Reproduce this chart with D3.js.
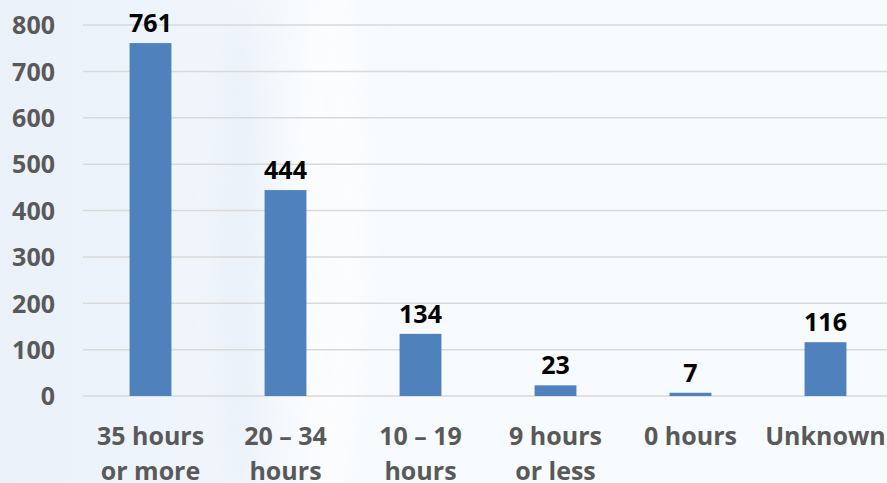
<!DOCTYPE html>
<html><head><meta charset="utf-8">
<script src="https://cdn.jsdelivr.net/npm/d3@7"></script>
<style>html,body{margin:0;padding:0;overflow:hidden;background:#f6fafd}</style>
</head><body>
<svg id="c" width="887" height="483"></svg>
<script>
const categories = [["35 hours","or more"],["20 – 34","hours"],["10 – 19","hours"],["9 hours","or less"],["0 hours"],["Unknown"]];
const values = [761,444,134,23,7,116];
const yTicks = [0,100,200,300,400,500,600,700,800];

const W=887,H=483;
const svg=d3.select("#c");
const defs=svg.append("defs");
const lg=defs.append("linearGradient").attr("id","bg").attr("x1",0).attr("x2",1).attr("y1",0).attr("y2",0);
[[0,"#eaf1f9"],[0.18,"#eef4fb"],[0.3,"#f4f8fd"],[0.5,"#f7fbfd"],[1,"#f8fbfd"]].forEach(s=>lg.append("stop").attr("offset",s[0]).attr("stop-color",s[1]));
svg.append("rect").attr("width",W).attr("height",H).attr("fill","url(#bg)");
const blur=defs.append("filter").attr("id","bl").attr("x","-50%").attr("y","-50%").attr("width","200%").attr("height","200%");
blur.append("feGaussianBlur").attr("stdDeviation",14);
svg.append("ellipse").attr("cx",330).attr("cy",230).attr("rx",40).attr("ry",300).attr("fill","#ffffff").attr("opacity",0.6).attr("filter","url(#bl)");
svg.append("ellipse").attr("cx",240).attr("cy",260).attr("rx",25).attr("ry",260).attr("fill","#e3ecf6").attr("opacity",0.5).attr("filter","url(#bl)");

const x=d3.scaleBand().domain(d3.range(values.length)).range([83,893]).paddingInner(0.69).paddingOuter(0.345);
const y=d3.scaleLinear().domain([0,800]).range([396,25]);

const font="'Open Sans', 'DejaVu Sans', sans-serif";
svg.append("g").selectAll("line").data(yTicks).join("line")
  .attr("x1",83).attr("x2",W).attr("y1",d=>y(d)).attr("y2",d=>y(d))
  .attr("stroke","#d9d9d9").attr("stroke-width",1.5);

const ya=svg.append("g").attr("transform","translate(55,0)")
  .call(d3.axisLeft(y).tickValues(yTicks).tickSize(0).tickPadding(0));
ya.select(".domain").remove();
ya.selectAll("text").attr("font-family",font).attr("font-weight",700).attr("font-size",25).attr("fill","#595959").attr("dy","0.35em");

svg.append("g").selectAll("rect").data(values).join("rect")
  .attr("x",(d,i)=>x(i)).attr("width",x.bandwidth())
  .attr("y",d=>y(d)).attr("height",d=>y(0)-y(d)).attr("fill","#4f81bd");

svg.append("g").selectAll("text").data(values).join("text")
  .attr("x",(d,i)=>x(i)+x.bandwidth()/2).attr("y",d=>y(d)-11)
  .attr("text-anchor","middle").attr("font-family",font).attr("font-weight",700).attr("font-size",25).attr("fill","#000")
  .text(d=>d);

const xa=svg.append("g").attr("transform","translate(0,396)")
  .call(d3.axisBottom(x).tickSize(0).tickFormat(()=>""));
xa.select(".domain").remove();
xa.selectAll(".tick").each(function(d){
  const t=d3.select(this).append("text").attr("font-family",font).attr("font-weight",700).attr("font-size",25)
    .attr("fill","#595959").attr("text-anchor","middle");
  categories[d].forEach((line,k)=>t.append("tspan").attr("x",0).attr("y",49+k*35).text(line));
});
</script>
</body></html>
